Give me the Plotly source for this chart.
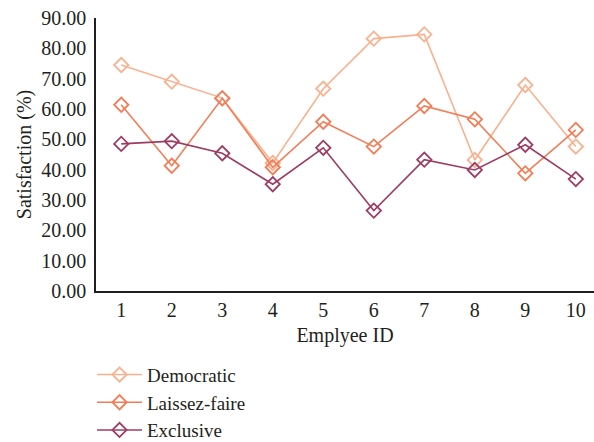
import plotly.graph_objects as go

employee_ids = [1, 2, 3, 4, 5, 6, 7, 8, 9, 10]
democratic = [74.5, 69.0, 63.6, 42.2, 66.7, 83.2, 84.6, 43.2, 67.9, 47.6]
laissez_faire = [61.4, 41.3, 63.5, 40.8, 55.8, 47.6, 61.0, 56.6, 38.8, 53.1]
exclusive = [48.5, 49.4, 45.4, 35.2, 47.2, 26.5, 43.3, 39.9, 48.2, 36.9]
y_ticks = [0, 10, 20, 30, 40, 50, 60, 70, 80, 90]

series = [
    ("Democratic", democratic, "#F9B18E"),
    ("Laissez-faire", laissez_faire, "#F27D57"),
    ("Exclusive", exclusive, "#9C3C62"),
]

font_family = "Liberation Serif"

fig = go.Figure()
for name, values, color in series:
    fig.add_trace(go.Scatter(
        x=employee_ids, y=values, name=name, mode="lines+markers",
        line=dict(color=color, width=1.6),
        marker=dict(symbol="diamond-open", size=11, color=color,
                    line=dict(width=1.8, color=color)),
    ))

fig.update_layout(
    width=594, height=442,
    margin=dict(l=96, r=0, t=18, b=151, autoexpand=False),
    paper_bgcolor="white", plot_bgcolor="white",
    font=dict(family=font_family, size=20, color="#231F20"),
    showlegend=True,
    legend=dict(
        x=-0.008, y=-0.237, xanchor="left", yanchor="top",
        orientation="v", font=dict(family=font_family, size=19),
        tracegroupgap=0, itemwidth=45, bgcolor="rgba(0,0,0,0)",
    ),
    xaxis=dict(
        range=[0.5, 10.36], tickmode="array", tickvals=employee_ids,
        showgrid=False, zeroline=False, showline=True, linecolor="#231F20",
        linewidth=1.5, ticks="", ticklabelstandoff=0,
        tickfont=dict(family=font_family, size=20),
        title=dict(text="Emplyee ID", font=dict(family=font_family, size=20),
                   standoff=8),
    ),
    yaxis=dict(
        range=[0, 90], tickmode="array", tickvals=y_ticks,
        tickformat=".2f", showgrid=False, zeroline=False, showline=True,
        linecolor="#231F20", linewidth=1.5, ticks="", ticklabelstandoff=4,
        tickfont=dict(family=font_family, size=20),
        title=dict(text="Satisfaction (%)",
                   font=dict(family=font_family, size=20), standoff=4),
    ),
)

fig.write_html("out.html")
